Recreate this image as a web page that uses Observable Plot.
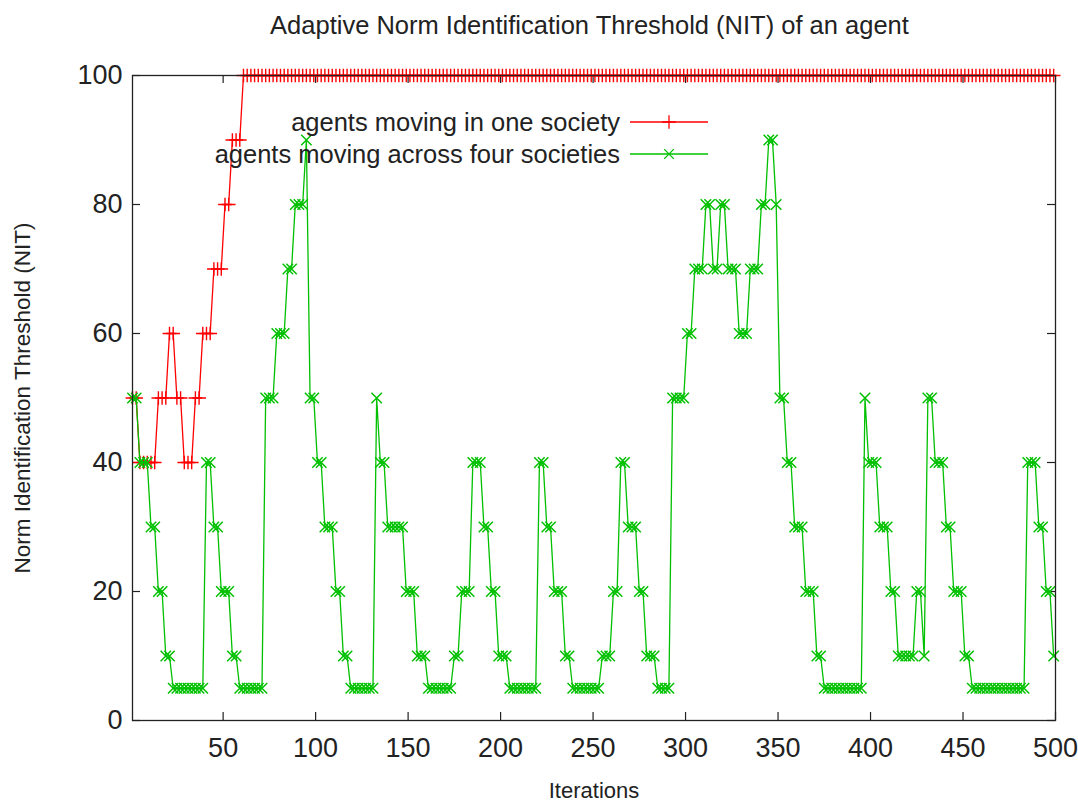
<!DOCTYPE html>
<html><head><meta charset="utf-8">
<script src="https://cdn.jsdelivr.net/npm/d3@7"></script>
<script src="https://cdn.jsdelivr.net/npm/@observablehq/plot@0.6"></script>
<style>
body{margin:0;background:#fff;font-family:"Liberation Sans",Arial,sans-serif;}
#title{height:50px;line-height:50px;margin-left:128px;width:923px;text-align:center;font-size:25.5px;color:#222;white-space:nowrap;}
</style></head><body>
<div id="title">Adaptive Norm Identification Threshold (NIT) of an agent</div>
<div id="chart"></div>
<script>
// Sampling: one recorded value every 2 iterations, starting at iteration 1
const sampleStep = 2;
const seriesNames = ["agents moving in one society", "agents moving across four societies"];
const xTicks = [50, 100, 150, 200, 250, 300, 350, 400, 450, 500];
const yTicks = [0, 20, 40, 60, 80, 100];
const xLabel = "Iterations";
const yLabel = "Norm Identification Threshold (NIT)";

const oneSociety = [
  50,50,40,40,40,40,40,50,50,50,
  60,60,50,50,40,40,40,50,50,60,
  60,60,70,70,70,80,80,90,90,90,
  100,100,100,100,100,100,100,100,100,100,
  100,100,100,100,100,100,100,100,100,100,
  100,100,100,100,100,100,100,100,100,100,
  100,100,100,100,100,100,100,100,100,100,
  100,100,100,100,100,100,100,100,100,100,
  100,100,100,100,100,100,100,100,100,100,
  100,100,100,100,100,100,100,100,100,100,
  100,100,100,100,100,100,100,100,100,100,
  100,100,100,100,100,100,100,100,100,100,
  100,100,100,100,100,100,100,100,100,100,
  100,100,100,100,100,100,100,100,100,100,
  100,100,100,100,100,100,100,100,100,100,
  100,100,100,100,100,100,100,100,100,100,
  100,100,100,100,100,100,100,100,100,100,
  100,100,100,100,100,100,100,100,100,100,
  100,100,100,100,100,100,100,100,100,100,
  100,100,100,100,100,100,100,100,100,100,
  100,100,100,100,100,100,100,100,100,100,
  100,100,100,100,100,100,100,100,100,100,
  100,100,100,100,100,100,100,100,100,100,
  100,100,100,100,100,100,100,100,100,100,
  100,100,100,100,100,100,100,100,100,100
];

const fourSocieties = [
  50,50,40,40,40,30,30,20,20,10,
  10,5,5,5,5,5,5,5,5,5,
  40,40,30,30,20,20,20,10,10,5,
  5,5,5,5,5,5,50,50,50,60,
  60,60,70,70,80,80,80,90,50,50,
  40,40,30,30,30,20,20,10,10,5,
  5,5,5,5,5,5,50,40,40,30,
  30,30,30,30,20,20,20,10,10,10,
  5,5,5,5,5,5,5,10,10,20,
  20,20,40,40,40,30,30,20,20,10,
  10,10,5,5,5,5,5,5,5,5,
  40,40,30,30,20,20,20,10,10,5,
  5,5,5,5,5,5,5,10,10,10,
  20,20,40,40,30,30,30,20,20,10,
  10,10,5,5,5,5,50,50,50,50,
  60,60,70,70,70,80,80,70,70,80,
  80,70,70,70,60,60,60,70,70,70,
  80,80,90,90,80,50,50,40,40,30,
  30,30,20,20,20,10,10,5,5,5,
  5,5,5,5,5,5,5,5,50,40,
  40,40,30,30,30,20,20,10,10,10,
  10,10,20,20,10,50,50,40,40,40,
  30,30,20,20,20,10,10,5,5,5,
  5,5,5,5,5,5,5,5,5,5,
  5,5,40,40,40,30,30,20,20,10
];

const colors = ["#ff0000", "#00c000"];
const toRows = (vals) => vals.map((v, i) => ({iter: 1 + i * sampleStep, v}));
const redData = toRows(oneSociety);
const greenData = toRows(fourSocieties);

const W = 1078, H = 753, ML = 132, MR = 23, MT = 25, MB = 83;
const innerW = W - ML - MR, innerH = H - MT - MB;
const tick = 8;
const ink = "#222";
const font = "Liberation Sans, Arial, sans-serif";

const chart = Plot.plot({
  width: W, height: H,
  marginLeft: ML, marginRight: MR, marginTop: MT, marginBottom: MB,
  style: {fontFamily: font, fontSize: "27px", color: ink, background: "#fff", overflow: "visible"},
  x: {domain: [1, 500]},
  y: {domain: [0, 100]},
  marks: [
    Plot.axisX({ticks: xTicks, tickSize: 0, tickPadding: 17, label: null, fontSize: 27}),
    Plot.axisY({ticks: yTicks, tickSize: 0, tickPadding: 10, label: null, fontSize: 27}),
    Plot.tickX(xTicks, {x: d => d, insetTop: innerH - tick, stroke: ink, strokeWidth: 1.2}),
    Plot.tickX(xTicks, {x: d => d, insetBottom: innerH - tick, stroke: ink, strokeWidth: 1.2}),
    Plot.tickY(yTicks, {y: d => d, insetRight: innerW - tick, stroke: ink, strokeWidth: 1.2}),
    Plot.tickY(yTicks, {y: d => d, insetLeft: innerW - tick, stroke: ink, strokeWidth: 1.2}),
    Plot.text([xLabel], {frameAnchor: "bottom", text: d => d, dy: 77, fontSize: 22, fill: ink, textAnchor: "middle"}),
    Plot.text([yLabel], {frameAnchor: "left", text: d => d, dx: -110, rotate: -90, fontSize: 22.5, fill: ink, textAnchor: "middle"}),
    Plot.line(redData, {x: "iter", y: "v", stroke: colors[0], strokeWidth: 1.3}),
    Plot.dot(redData, {x: "iter", y: "v", stroke: colors[0], symbol: "plus", r: 4.5, strokeWidth: 1.4}),
    Plot.line(greenData, {x: "iter", y: "v", stroke: colors[1], strokeWidth: 1.3}),
    Plot.dot(greenData, {x: "iter", y: "v", stroke: colors[1], symbol: "times", r: 4.8, strokeWidth: 1.5}),
    Plot.frame({stroke: ink, strokeWidth: 1.3})
  ]
});
document.getElementById("chart").appendChild(chart);

// Legend (inside plot area, upper middle)
const svg = d3.select(chart);
const lg = svg.append("g").attr("font-family", font).attr("font-size", 25.5);
const symbols = [d3.symbolPlus, d3.symbolTimes];
seriesNames.forEach((name, k) => {
  const y = 72 + k * 32;
  lg.append("text").attr("x", 620).attr("y", y).attr("dy", "0.35em").attr("text-anchor", "end").attr("fill", ink).text(name);
  lg.append("line").attr("x1", 630).attr("x2", 708).attr("y1", y).attr("y2", y).attr("stroke", colors[k]).attr("stroke-width", 1.3);
  lg.append("path").attr("d", d3.symbol(symbols[k], Math.PI * 20)()).attr("transform", `translate(669,${y})`)
    .attr("fill", "none").attr("stroke", colors[k]).attr("stroke-width", 1.3);
});
</script>
</body></html>
